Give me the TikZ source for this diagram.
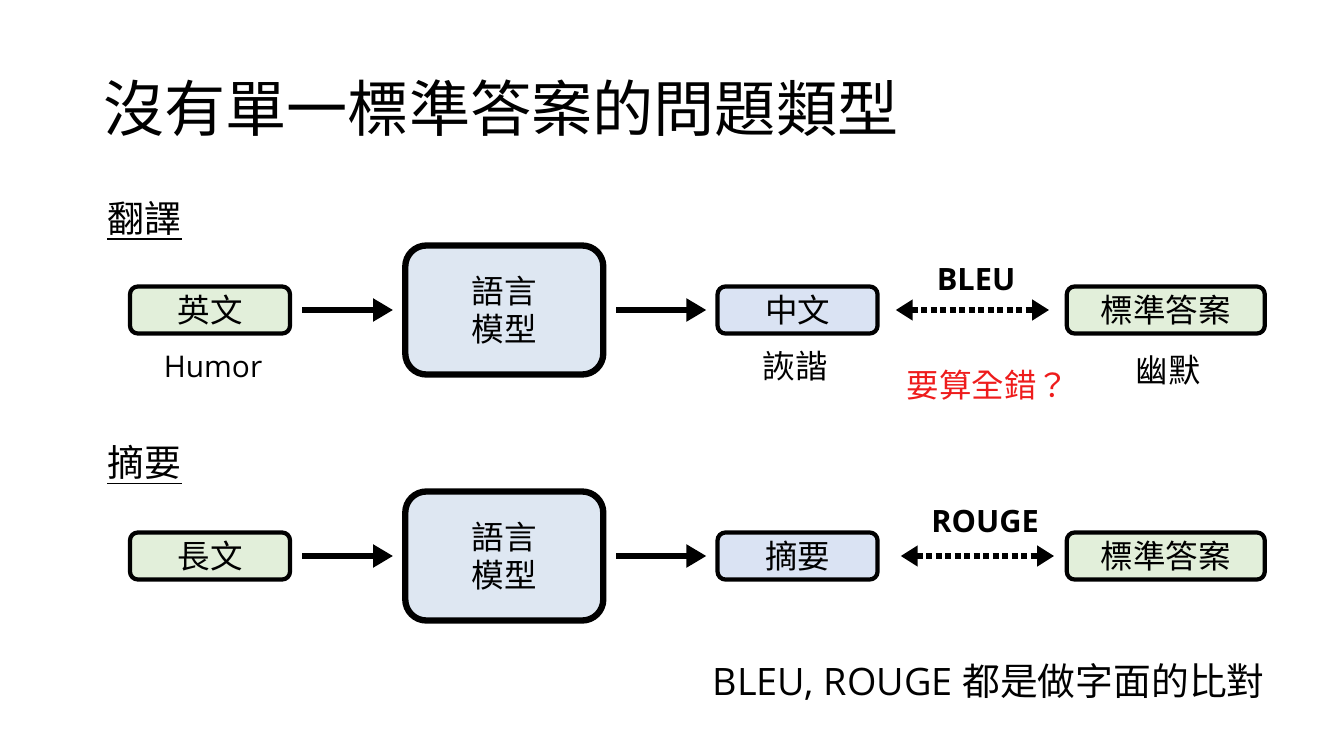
\documentclass[tikz,border=0pt]{standalone}
\usepackage{fontspec}
\setmainfont{Open Sans}
\newfontfamily\cjk{Noto Sans CJK TC}
\usetikzlibrary{arrows.meta,positioning}
\definecolor{evGreen}{HTML}{E2EFDA}
\definecolor{evBlue}{HTML}{DEE7F2}
\definecolor{evLav}{HTML}{DAE3F3}
\definecolor{evRed}{HTML}{EE1C1C}
\tikzset{
  evnode/.style={
    draw, line width=2.4pt, rounded corners=4.5pt, minimum height=9.4mm, minimum width=32mm,
    font=\cjk\fontsize{18.5}{22}\selectfont, align=center, inner sep=0pt
  },
  srcbox/.style={evnode, fill=evGreen},
  outbox/.style={evnode, fill=evLav},
  refbox/.style={evnode, fill=evGreen, minimum width=39.6mm},
  lmbox/.style={evnode, fill=evBlue, line width=3.6pt, rounded corners=12pt, minimum width=39.6mm, minimum height=25.8mm},
  annot/.style={font=\cjk\fontsize{18.5}{22}\selectfont, inner sep=0pt},
  latinnote/.style={font=\fontsize{17}{20}\selectfont, inner sep=0pt},
  metricname/.style={font=\bfseries\fontsize{17.5}{20}\selectfont, inner sep=0pt},
  sechead/.style={font=\cjk\fontsize{21}{25}\selectfont, inner sep=0pt, anchor=west},
  flow/.style={-{Triangle[length=4mm,width=4.4mm]}, line width=3pt, shorten <=2mm, shorten >=1.8mm},
  metric/.style={{Triangle[length=3.4mm,width=4mm]}-{Triangle[length=3.4mm,width=4mm]},
    line width=3.2pt, dash pattern=on 1.2mm off 0.7mm}
}
\begin{document}
\begin{tikzpicture}
  \useasboundingbox (0,0) rectangle (26.68,15);
  \node[anchor=west, inner sep=0pt, font=\cjk\fontsize{34.8}{40}\selectfont] (title) at (2.06,12.84) {沒有單一標準答案的問題類型};

  % translation row
  \node[sechead] (trans) at (2.14,10.64) {翻譯};
  \draw[line width=1.1pt] ([yshift=-0.8mm]trans.south west) -- ([yshift=-0.8mm]trans.south east);
  \node[srcbox] (en) at (4.2,8.8) {英文};
  \node[lmbox, right=2.2cm of en] (lmA) {語言\\模型};
  \node[outbox, right=2.18cm of lmA] (zh) {中文};
  \node[refbox, right=3.7cm of zh] (refA) {標準答案};
  \draw[flow] (en) -- (lmA);
  \draw[flow] (lmA) -- (zh);
  \draw[metric, shorten <=3.2mm, shorten >=3.1mm] (zh) -- (refA);
  \node[metricname] (bleu) at (19.52,9.4) {BLEU};
  \node[latinnote] (humor) at (4.26,7.66) {Humor};
  \node[annot] (xie) at (15.9,7.68) {詼諧};
  \node[annot] (youmo) at (23.36,7.6) {幽默};
  \node[annot, text=evRed] (wrong) at (19.76,7.3) {要算全錯？};

  % summarization row
  \node[sechead] (summ) at (2.14,5.76) {摘要};
  \draw[line width=1.1pt] ([yshift=-0.8mm]summ.south west) -- ([yshift=-0.8mm]summ.south east);
  \node[srcbox] (long) at (4.2,3.88) {長文};
  \node[lmbox, right=2.2cm of long] (lmB) {語言\\模型};
  \node[outbox, right=2.18cm of lmB] (abs) {摘要};
  \node[refbox, right=3.7cm of abs] (refB) {標準答案};
  \draw[flow] (long) -- (lmB);
  \draw[flow] (lmB) -- (abs);
  \draw[metric, shorten <=4.2mm, shorten >=2.1mm] (abs) -- (refB);
  \node[metricname] (rouge) at (19.7,4.58) {ROUGE};

  \node[anchor=east, inner sep=0pt, font=\fontsize{21.5}{26}\selectfont] (footer) at (25.3,1.36) {BLEU, ROUGE {\cjk 都是做字面的比對}};
\end{tikzpicture}
\end{document}
